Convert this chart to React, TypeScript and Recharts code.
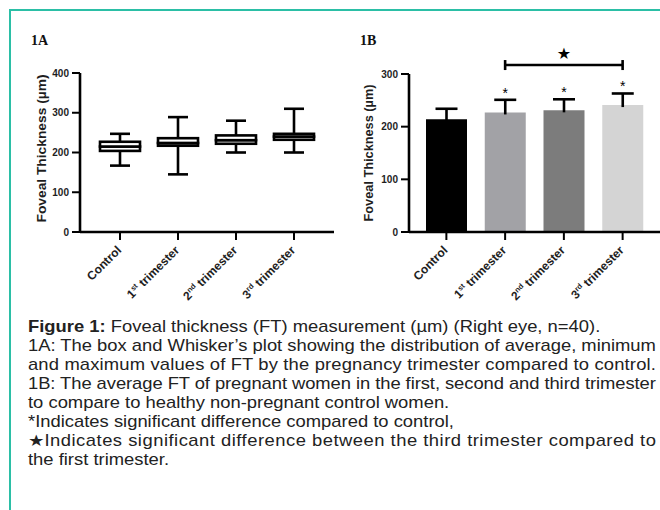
import React from 'react';
import { ComposedChart, Bar, XAxis, YAxis, Cell, ReferenceLine } from 'recharts';

// ---------- data ----------
const categories = ['Control', '1st trimester', '2nd trimester', '3rd trimester'];
const labelLead = ['Control', '1', '2', '3'];
const labelSup = ['', 'st', 'nd', 'rd'];
const labelTail = ['', ' trimester', ' trimester', ' trimester'];

// 1A box & whisker values (µm)
const boxMin = [167, 145, 200, 200];
const boxQ1 = [204, 217, 222, 232];
const boxMedian = [215, 224, 231, 240];
const boxQ3 = [227, 236, 243, 247];
const boxMax = [247, 289, 280, 310];

// 1B mean + SD (µm)
const meanFT = [214, 227, 231, 241];
const sdFT = [20, 24, 21, 22];
const sigVsControl = [false, true, true, true];
const barColors = ['#000000', '#a2a2a6', '#7c7c7c', '#d4d4d4'];

const ticksA = [0, 100, 200, 300, 400];
const ticksB = [0, 100, 200, 300];
const sigBracket = ['1st trimester', '3rd trimester'];
const sigBracketValue = 317;

const yLabel = 'Foveal Thickness (\u00B5m)';

const captionLines = [
  { bold: 'Figure 1:', text: ' Foveal thickness (FT) measurement (\u00B5m) (Right eye, n=40).', justify: false },
  { bold: '', text: '1A: The box and Whisker\u2019s plot showing the distribution of average, minimum', justify: true },
  { bold: '', text: 'and maximum values of FT by the pregnancy trimester compared to control.', justify: true },
  { bold: '', text: '1B: The average FT of pregnant women in the first, second and third trimester', justify: true },
  { bold: '', text: 'to compare to healthy non-pregnant control women.', justify: false },
  { bold: '', text: '*Indicates significant difference compared to control,', justify: false },
  { bold: '', text: '\u2605Indicates significant difference between the third trimester compared to', justify: true },
  { bold: '', text: 'the first trimester.', justify: false },
];

const boxData = categories.map((cat, i) => ({
  cat,
  base: boxMin[i],
  wLow: boxQ1[i] - boxMin[i],
  boxLow: boxMedian[i] - boxQ1[i],
  boxHigh: boxQ3[i] - boxMedian[i],
  wHigh: boxMax[i] - boxQ3[i],
}));

const barData = categories.map((cat, i) => ({ cat, mean: meanFT[i], sd: sdFT[i] }));

// ---------- styles ----------
const FONT = '"Liberation Sans", Arial, Helvetica, sans-serif';
const LW = 2.6;
const TEAL = '#2bbfa6';

// ---------- shapes ----------
const EmptyShape = () => <g />;

const LowWhisker = (p: any) => {
  const cx = p.x + p.width / 2;
  const yb = p.y + p.height;
  return (
    <g>
      <line x1={cx} x2={cx} y1={p.y} y2={yb} stroke="#000" strokeWidth={LW} />
      <line x1={cx - 10} x2={cx + 10} y1={yb} y2={yb} stroke="#000" strokeWidth={LW} />
    </g>
  );
};

const HighWhisker = (p: any) => {
  const cx = p.x + p.width / 2;
  const yb = p.y + p.height;
  return (
    <g>
      <line x1={cx} x2={cx} y1={p.y} y2={yb} stroke="#000" strokeWidth={LW} />
      <line x1={cx - 10} x2={cx + 10} y1={p.y} y2={p.y} stroke="#000" strokeWidth={LW} />
    </g>
  );
};

const BoxHalf = (p: any) => (
  <rect x={p.x} y={p.y} width={p.width} height={p.height} fill="#fff" stroke="#000" strokeWidth={LW} />
);

const SdWhisker = (p: any) => {
  const cx = p.x + p.width / 2;
  const yb = p.y + p.height;
  return (
    <g>
      <line x1={cx} x2={cx} y1={p.y} y2={yb + 2} stroke="#000" strokeWidth={LW} />
      <line x1={cx - 11} x2={cx + 11} y1={p.y} y2={p.y} stroke="#000" strokeWidth={LW} />
      {sigVsControl[p.index] ? (
        <text x={cx} y={p.y - 2} textAnchor="middle" fontSize={14} fontFamily={FONT} fill="#000">
          *
        </text>
      ) : null}
    </g>
  );
};

const SigShape = (p: any) => {
  const { x1, y1, x2, y2 } = p;
  return (
    <g>
      <line x1={x1} x2={x2} y1={y1} y2={y2} stroke="#000" strokeWidth={LW} />
      <line x1={x1} x2={x1} y1={y1 - 5} y2={y1 + 5} stroke="#000" strokeWidth={LW} />
      <line x1={x2} x2={x2} y1={y2 - 5} y2={y2 + 5} stroke="#000" strokeWidth={LW} />
      <text
        x={(x1 + x2) / 2}
        y={y1 - 6}
        textAnchor="middle"
        fontSize={16}
        fontFamily='"DejaVu Sans", sans-serif'
        fill="#000"
      >
        {'\u2605'}
      </text>
    </g>
  );
};

const CatTick = (props: any) => {
  const { x, y, payload } = props;
  const i = categories.indexOf(payload.value);
  return (
    <g transform={`translate(${x + 2},${y + 9})`}>
      <text
        x={0}
        y={0}
        transform="rotate(-45)"
        textAnchor="end"
        fontSize={12}
        fontWeight="bold"
        fontFamily={FONT}
        fill="#1e1e1e"
      >
        <tspan>{labelLead[i]}</tspan>
        {labelSup[i] ? (
          <tspan fontSize={7.5} dy={-4.5}>
            {labelSup[i]}
          </tspan>
        ) : null}
        {labelTail[i] ? <tspan dy={labelSup[i] ? 4.5 : 0}>{labelTail[i]}</tspan> : null}
      </text>
    </g>
  );
};

const makeYLabel = (cxOffset: number, dyOffset: number, len: number) => (lp: any) => {
  const vb = lp.viewBox || {};
  const cx = (vb.x || 0) + cxOffset;
  const cy = (vb.y || 0) + (vb.height || 0) / 2 + dyOffset;
  return (
    <text
      x={cx}
      y={cy}
      transform={`rotate(-90, ${cx}, ${cy})`}
      textAnchor="middle"
      dominantBaseline="central"
      fontSize={13}
      fontWeight="bold"
      fontFamily={FONT}
      fill="#1e1e1e"
      textLength={len}
      lengthAdjust="spacingAndGlyphs"
    >
      {yLabel}
    </text>
  );
};

const axisLine = { stroke: '#000', strokeWidth: LW };
const tickLine = { stroke: '#000', strokeWidth: 2 };
const yTick = { fontSize: 10, fontWeight: 'bold', fill: '#1e1e1e', fontFamily: FONT };

export default function App() {
  return (
    <div
      style={{
        position: 'absolute',
        left: 0,
        top: 0,
        width: 660,
        height: 510,
        background: '#fff',
        overflow: 'hidden',
        fontFamily: FONT,
      }}
    >
      {/* frame */}
      <div style={{ position: 'absolute', left: 9, top: 9, width: 651, height: 1.5, background: TEAL }} />
      <div style={{ position: 'absolute', left: 9, top: 9, width: 1.5, height: 501, background: TEAL }} />

      {/* panel titles */}
      <div
        style={{
          position: 'absolute',
          left: 31,
          top: 34,
          fontFamily: '"Liberation Serif", "Times New Roman", serif',
          fontWeight: 'bold',
          fontSize: 14,
          lineHeight: '14px',
          color: '#111',
        }}
      >
        1A
      </div>
      <div
        style={{
          position: 'absolute',
          left: 360,
          top: 34,
          fontFamily: '"Liberation Serif", "Times New Roman", serif',
          fontWeight: 'bold',
          fontSize: 14,
          lineHeight: '14px',
          color: '#111',
        }}
      >
        1B
      </div>

      {/* 1A box plot */}
      <div style={{ position: 'absolute', left: 0, top: 0 }}>
        <ComposedChart width={340} height={315} data={boxData} margin={{ top: 73, right: 6, bottom: 3, left: 0 }}>
          <XAxis
            dataKey="cat"
            type="category"
            interval={0}
            height={80}
            padding={{ left: 11, right: 11 }}
            axisLine={axisLine}
            tickLine={tickLine}
            tickSize={8}
            tick={<CatTick />}
          />
          <YAxis
            width={80}
            domain={[0, 400]}
            ticks={ticksA}
            interval={0}
            axisLine={axisLine}
            tickLine={tickLine}
            tickSize={8}
            tickMargin={3}
            tick={yTick}
            label={{ content: makeYLabel(41, -4, 148) }}
          />
          <Bar dataKey="base" stackId="a" barSize={40} shape={EmptyShape} isAnimationActive={false} />
          <Bar dataKey="wLow" stackId="a" barSize={40} shape={LowWhisker} isAnimationActive={false} />
          <Bar dataKey="boxLow" stackId="a" barSize={40} shape={BoxHalf} isAnimationActive={false} />
          <Bar dataKey="boxHigh" stackId="a" barSize={40} shape={BoxHalf} isAnimationActive={false} />
          <Bar dataKey="wHigh" stackId="a" barSize={40} shape={HighWhisker} isAnimationActive={false} />
        </ComposedChart>
      </div>

      {/* 1B bar chart */}
      <div style={{ position: 'absolute', left: 330, top: 0 }}>
        <ComposedChart width={330} height={315} data={barData} margin={{ top: 74, right: 0, bottom: 3, left: 0 }}>
          <XAxis
            dataKey="cat"
            type="category"
            interval={0}
            height={80}
            padding={{ left: 8, right: 8 }}
            axisLine={axisLine}
            tickLine={tickLine}
            tickSize={8}
            tick={<CatTick />}
          />
          <YAxis
            width={79}
            domain={[0, 300]}
            ticks={ticksB}
            interval={0}
            axisLine={axisLine}
            tickLine={tickLine}
            tickSize={8}
            tickMargin={3}
            tick={yTick}
            label={{ content: makeYLabel(38, 0, 137) }}
          />
          <Bar dataKey="mean" stackId="b" barSize={41} isAnimationActive={false}>
            {barData.map((d, i) => (
              <Cell key={d.cat} fill={barColors[i]} />
            ))}
          </Bar>
          <Bar dataKey="sd" stackId="b" barSize={41} shape={SdWhisker} isAnimationActive={false} />
          <ReferenceLine
            segment={[
              { x: sigBracket[0], y: sigBracketValue },
              { x: sigBracket[1], y: sigBracketValue },
            ]}
            ifOverflow="visible"
            shape={SigShape}
          />
        </ComposedChart>
      </div>

      {/* caption */}
      <svg width={660} height={210} style={{ position: 'absolute', left: 0, top: 300 }}>
        <g transform="translate(28,0) scale(1.15,1)">
          {captionLines.map((l, i) => (
            <text
              key={i}
              x={0}
              y={32.5 + 19 * i}
              fontSize={16}
              fontFamily={FONT}
              fill="#222"
              textLength={l.justify ? 546 : undefined}
              lengthAdjust={l.justify ? 'spacing' : undefined}
            >
              {l.bold ? <tspan fontWeight="bold">{l.bold}</tspan> : null}
              {l.text}
            </text>
          ))}
        </g>
      </svg>
    </div>
  );
}
